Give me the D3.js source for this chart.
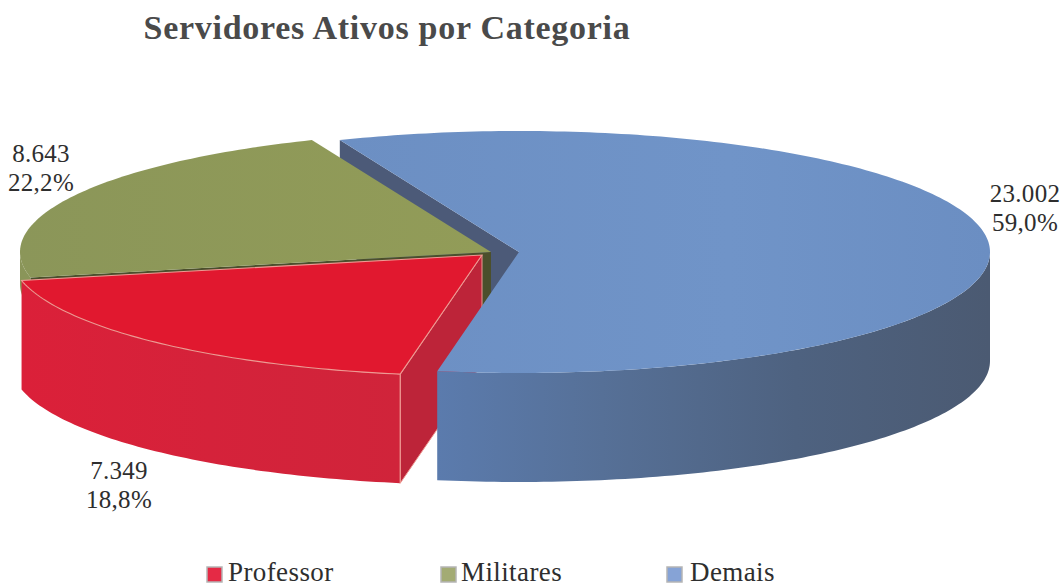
<!DOCTYPE html>
<html><head><meta charset="utf-8">
<script src="https://cdn.jsdelivr.net/npm/d3@7"></script>
<style>html,body{margin:0;padding:0;background:#fff;overflow:hidden}svg{display:block}text{font-family:"Liberation Serif",serif;fill:#2e2e2e}</style>
</head><body><svg id="c" width="1063" height="587"></svg>
<script>
const categories=["Professor","Militares","Demais"];
const values=[7349,8643,23002];
const valueLabels=["7.349","8.643","23.002"];
const percentLabels=["18,8%","22,2%","59,0%"];
const title="Servidores Ativos por Categoria";

const svg=d3.select("#c");
const rad=d=>d*Math.PI/180;
const rx=471,ry=121,depth=109,oliveRim=32;
const centers=[[482,255],[491,252],[519,252]];
const topCol=["#e1182f","#8f9a5a","#6e91c5"];
const labelPos=[[119,479],[41,162],[1025,202]];
const legendX=[207,441,667];
const legendTextX=[228,461,690];

const pie=d3.pie().sort(null).startAngle(rad(190)).endAngle(rad(550));
const arcs=pie(values);

// elliptical projection: unit-disc coordinates to page pixels, one per slice
const scales=centers.map(c=>({x:d3.scaleLinear().domain([-1,1]).range([c[0]-rx,c[0]+rx]),
                              y:d3.scaleLinear().domain([-1,1]).range([c[1]-ry,c[1]+ry])}));
const P=(i,a,r=1,dz=0)=>[scales[i].x(r*Math.sin(a)),scales[i].y(-r*Math.cos(a))+dz];
const line=d3.line();
const samples=(a0,a1)=>{const n=Math.max(2,Math.ceil(Math.abs(a1-a0)/rad(1)));return d3.range(n+1).map(k=>a0+(a1-a0)*k/n);};
const topPath=i=>{const s=arcs[i];return line([P(i,0,0),...samples(s.startAngle,s.endAngle).map(a=>P(i,a))])+"Z";};
const wallPath=(i,a0,a1,h=depth)=>{const t=samples(a0,a1);return line([...t.map(a=>P(i,a)),...t.slice().reverse().map(a=>P(i,a,1,h))])+"Z";};
const cutPath=(i,a)=>line([P(i,0,0),P(i,a),P(i,a,1,depth),P(i,0,0,depth)])+"Z";

const defs=svg.append("defs");
function grad(id,x1,x2,stops){const g=defs.append("linearGradient").attr("id",id).attr("gradientUnits","userSpaceOnUse")
  .attr("x1",x1).attr("x2",x2).attr("y1",0).attr("y2",0);
  stops.forEach(s=>g.append("stop").attr("offset",s[0]).attr("stop-color",s[1]));}
grad("gBlueWall",437,989,[[0,"#5b7bad"],[.3,"#567097"],[.65,"#4e6280"],[1,"#4b5a72"]]);
grad("gRedWall",20,400,[[0,"#db2039"],[.5,"#d5223a"],[1,"#d0243a"]]);
grad("gBlueTop",340,990,[[0,"#6c8fc3"],[.6,"#7094c8"],[1,"#6b8ec2"]]);
grad("gOlive",20,490,[[0,"#8b9659"],[1,"#929c58"]]);

const g=svg.append("g");
const edge="#ee9a93";
// blue cut face (behind the other slices)
g.append("path").attr("d",cutPath(2,arcs[2].startAngle)).attr("fill","#4c5a78");
// olive
g.append("path").attr("d",wallPath(1,arcs[1].startAngle,rad(270),oliveRim)).attr("fill","#8a9559");
g.append("path").attr("d",cutPath(1,arcs[1].startAngle)).attr("fill","#4b4f2c");
g.append("path").attr("d",topPath(1)).attr("fill","url(#gOlive)");
// red
g.append("path").attr("d",cutPath(0,arcs[0].startAngle)).attr("fill","#bd2439").attr("stroke",edge).attr("stroke-width",1);
g.append("path").attr("d",wallPath(0,arcs[0].startAngle,arcs[0].endAngle)).attr("fill","url(#gRedWall)");
g.append("path").attr("d",line([P(0,arcs[0].startAngle),P(0,arcs[0].startAngle,1,depth)])).attr("stroke",edge).attr("stroke-width",1.2).attr("fill","none");
g.append("path").attr("d",topPath(0)).attr("fill",topCol[0]).attr("stroke",edge).attr("stroke-width",1.1);
// blue
g.append("path").attr("d",wallPath(2,rad(450),arcs[2].endAngle)).attr("fill","url(#gBlueWall)");
g.append("path").attr("d",topPath(2)).attr("fill","url(#gBlueTop)");

// title
svg.append("text").attr("x",387).attr("y",39).attr("text-anchor","middle")
  .attr("font-size",34).attr("font-weight","bold").attr("letter-spacing","0.73").style("fill","#4a4a4a").text(title);

// value labels
categories.forEach((c,i)=>{
  const t=svg.append("text").attr("text-anchor","middle").attr("font-size",25).attr("letter-spacing","0.3");
  t.append("tspan").attr("x",labelPos[i][0]).attr("y",labelPos[i][1]).text(valueLabels[i]);
  t.append("tspan").attr("x",labelPos[i][0]).attr("y",labelPos[i][1]+29).text(percentLabels[i]);
});

// legend
categories.forEach((c,i)=>{
  svg.append("rect").attr("x",legendX[i]).attr("y",567).attr("width",15).attr("height",15)
    .attr("fill",["#e52a45","#a3ab74","#86a3d6"][i]).attr("stroke","#b5b5b5").attr("stroke-width",1.5);
  svg.append("text").attr("x",legendTextX[i]).attr("y",581).attr("font-size",27).attr("letter-spacing","0.4").text(c);
});
</script></body></html>
